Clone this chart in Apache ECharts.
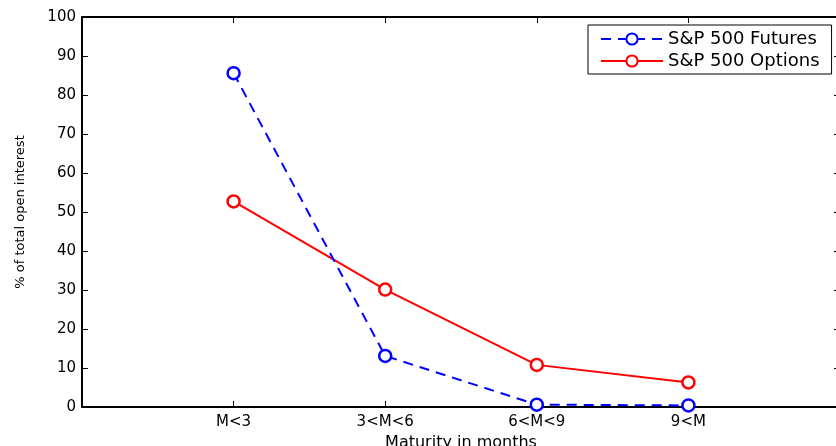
<!DOCTYPE html>
<html>
<head>
<meta charset="utf-8">
<script src="https://cdn.jsdelivr.net/npm/echarts@6/dist/echarts.min.js"></script>
<style>
  html, body { margin: 0; padding: 0; background: #fff; }
  #main { width: 836px; height: 446px; }
</style>
</head>
<body>
<div id="main"></div>
<script>
// Maturity buckets (x positions 1..4 on a 0..5 axis, as in the original plot)
const maturities = ["M<3", "3<M<6", "6<M<9", "9<M"];
const futuresShare = [85.6, 13.1, 0.6, 0.4];
const optionsShare = [52.7, 30.1, 10.8, 6.3];
const yTicks = [0, 10, 20, 30, 40, 50, 60, 70, 80, 90, 100];

document.addEventListener("DOMContentLoaded", function () {
  const chart = echarts.init(document.getElementById("main"));
  const font = "DejaVu Sans, Arial, Helvetica, sans-serif";

  // Convert a series to [x, y] pairs with x = bucket position
  function toPoints(values) {
    return values.map((v, i) => [i + 1, v]);
  }

  const axisLine = { show: true, onZero: false, lineStyle: { color: "#000", width: 2 } };
  const tick = { show: true, inside: true, length: 6, lineStyle: { color: "#000", width: 1 } };

  const option = {
    backgroundColor: "#fff",
    animation: false,
    grid: { left: 82, top: 17, width: 758, height: 390, containLabel: false, outerBoundsMode: "none" },
    legend: {
      orient: "vertical",
      left: 588,
      top: 25,
      padding: [5, 12, 4, 12],
      itemGap: 4,
      itemWidth: 62,
      itemHeight: 14,
      backgroundColor: "#fff",
      borderColor: "#000",
      borderWidth: 1,
      borderRadius: 0,
      textStyle: { fontFamily: font, fontSize: 18, color: "#000", lineHeight: 18 },
      data: ["S&P 500 Futures", "S&P 500 Options"],
    },
    xAxis: [
      {
        type: "value",
        position: "bottom",
        min: 0,
        max: 5,
        interval: 1,
        name: "Maturity in months",
        nameLocation: "middle",
        nameGap: 24,
        nameTextStyle: { fontFamily: font, fontSize: 16, color: "#000" },
        axisLine: axisLine,
        axisTick: tick,
        splitLine: { show: false },
        axisLabel: {
          fontFamily: font,
          fontSize: 15,
          color: "#000",
          margin: 8,
          formatter: (v) => maturities[v - 1] || "",
        },
      },
      {
        type: "value",
        position: "top",
        min: 0,
        max: 5,
        interval: 1,
        axisLine: axisLine,
        axisTick: tick,
        axisLabel: { show: false },
        splitLine: { show: false },
      },
    ],
    yAxis: [
      {
        type: "value",
        position: "left",
        min: yTicks[0],
        max: yTicks[yTicks.length - 1],
        interval: 10,
        name: "% of total open interest",
        nameLocation: "middle",
        nameGap: 55,
        nameTextStyle: { fontFamily: font, fontSize: 13, color: "#000" },
        axisLine: axisLine,
        axisTick: tick,
        splitLine: { show: false },
        axisLabel: { fontFamily: font, fontSize: 15, color: "#000", margin: 6 },
      },
      {
        type: "value",
        position: "right",
        min: yTicks[0],
        max: yTicks[yTicks.length - 1],
        interval: 10,
        axisLine: axisLine,
        axisTick: tick,
        axisLabel: { show: false },
        splitLine: { show: false },
      },
    ],
    series: [
      {
        name: "S&P 500 Futures",
        type: "line",
        data: toPoints(futuresShare),
        symbol: "circle",
        symbolSize: 12,
        lineStyle: { color: "#0000ff", width: 2, type: [10, 7] },
        itemStyle: { color: "#fff", borderColor: "#0000ff", borderWidth: 2.5 },
        z: 3,
      },
      {
        name: "S&P 500 Options",
        type: "line",
        data: toPoints(optionsShare),
        symbol: "circle",
        symbolSize: 12,
        lineStyle: { color: "#ff0000", width: 2 },
        itemStyle: { color: "#fff", borderColor: "#ff0000", borderWidth: 2.5 },
        z: 2,
      },
    ],
  };

  chart.setOption(option);
});
</script>
</body>
</html>
